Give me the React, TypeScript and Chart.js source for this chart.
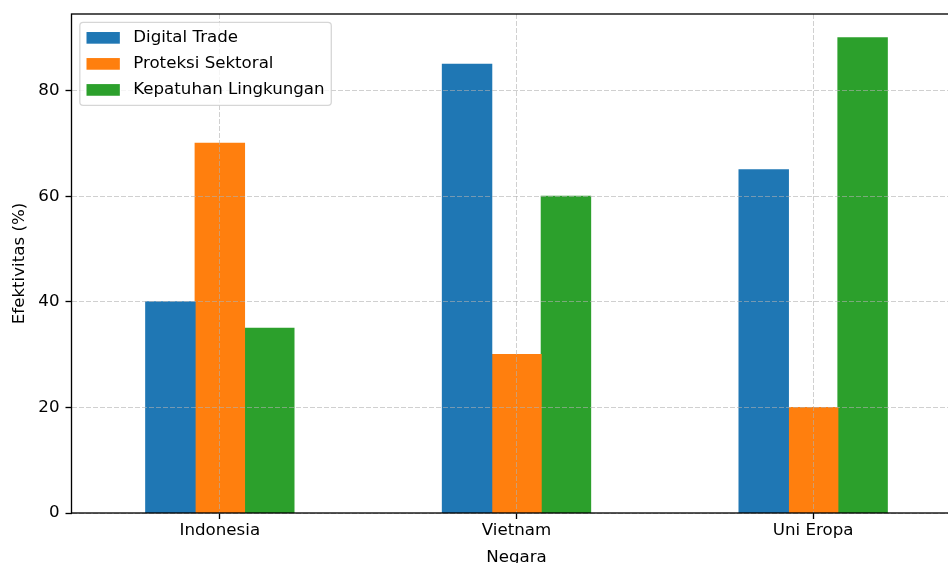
import React, { useEffect, useRef } from "react";
import { Chart, registerables } from "chart.js";

Chart.register(...registerables);

const categories = ["Indonesia", "Vietnam", "Uni Eropa"];
const seriesLabels = ["Digital Trade", "Proteksi Sektoral", "Kepatuhan Lingkungan"];
const digitalTrade = [40, 85, 65];
const proteksiSektoral = [70, 30, 20];
const kepatuhanLingkungan = [35, 60, 90];
const seriesColors = ["#1f77b4", "#ff7f0e", "#2ca02c"];
const yTicks = [0, 20, 40, 60, 80];
const yMax = 94.5;

const W = 975;
const H = 580;
const FONT = '"DejaVu Sans", sans-serif';
const FS = 16.67;

const framePlugin = {
  id: "mplFrame",
  afterDraw(chart: any) {
    const { ctx, chartArea: a } = chart;
    ctx.save();
    ctx.strokeStyle = "#000";
    ctx.lineWidth = 1.33;
    ctx.strokeRect(a.left, a.top, a.right - a.left, a.bottom - a.top);

    // legend (matplotlib style, upper left inside axes)
    const em = FS;
    const ds = chart.data.datasets;
    const n = ds.length;
    ctx.font = `${FS}px ${FONT}`;
    const tw = Math.max(...ds.map((d: any) => ctx.measureText(d.label).width));
    const rowH = 17.7;
    const gap = 0.5 * em;
    const x0 = a.left + 0.5 * em;
    const y0 = a.top + 0.5 * em;
    const w = 0.4 * em + 2 * em + 0.8 * em + tw + 0.4 * em;
    const h = 0.8 * em + rowH * n + gap * (n - 1);
    const r = 0.2 * em;
    ctx.beginPath();
    ctx.moveTo(x0 + r, y0);
    ctx.lineTo(x0 + w - r, y0);
    ctx.arcTo(x0 + w, y0, x0 + w, y0 + r, r);
    ctx.lineTo(x0 + w, y0 + h - r);
    ctx.arcTo(x0 + w, y0 + h, x0 + w - r, y0 + h, r);
    ctx.lineTo(x0 + r, y0 + h);
    ctx.arcTo(x0, y0 + h, x0, y0 + h - r, r);
    ctx.lineTo(x0, y0 + r);
    ctx.arcTo(x0, y0, x0 + r, y0, r);
    ctx.closePath();
    ctx.fillStyle = "rgba(255,255,255,0.8)";
    ctx.fill();
    ctx.strokeStyle = "rgba(204,204,204,0.8)";
    ctx.lineWidth = 1.3;
    ctx.stroke();

    ctx.textBaseline = "middle";
    ctx.textAlign = "left";
    ds.forEach((d: any, i: number) => {
      const cy = y0 + 0.4 * em + rowH / 2 + i * (rowH + gap);
      const hx = x0 + 0.4 * em;
      ctx.fillStyle = d.backgroundColor;
      ctx.fillRect(hx, cy - 0.35 * em, 2 * em, 0.7 * em);
      ctx.fillStyle = "#000";
      ctx.fillText(d.label, hx + 2.8 * em, cy);
    });
    ctx.restore();
  },
};

export default function App() {
  const ref = useRef<HTMLCanvasElement | null>(null);

  useEffect(() => {
    if (!ref.current) return;
    Chart.defaults.font.family = FONT;
    Chart.defaults.font.size = FS;
    Chart.defaults.color = "#000";
    const values = [digitalTrade, proteksiSektoral, kepatuhanLingkungan];
    const chart = new Chart(ref.current, {
      type: "bar",
      data: {
        labels: categories,
        datasets: seriesLabels.map((label, i) => ({
          label,
          data: values[i],
          backgroundColor: seriesColors[i],
          borderWidth: 0,
          inflateAmount: 0.5,
          categoryPercentage: 0.5,
          barPercentage: 1.0,
        })),
      },
      options: {
        animation: false,
        responsive: false,
        devicePixelRatio: 1,
        layout: { padding: { left: 0, top: 14, right: W - 961.5, bottom: 0 } },
        plugins: {
          legend: { display: false },
          tooltip: { enabled: false },
        },
        scales: {
          x: {
            grid: {
              z: 1,
              offset: false,
              color: "rgba(176,176,176,0.6)",
              lineWidth: 1,
              tickColor: "#000",
              tickWidth: 1.33,
              tickLength: 6,
            },
            border: { display: false, dash: [5, 2] },
            ticks: { padding: 2, color: "#000", font: { size: FS, family: FONT } },
            title: {
              display: true,
              text: "Negara",
              color: "#000",
              font: { size: FS, family: FONT },
              padding: { top: 0, bottom: 12 },
            },
            afterFit: (s: any) => {
              s.height = H - 513;
              s.paddingLeft = 0;
              s.paddingRight = 0;
            },
          },
          y: {
            min: 0,
            max: yMax,
            afterBuildTicks: (s: any) => {
              s.ticks = yTicks.map((v) => ({ value: v }));
            },
            grid: {
              z: 1,
              color: "rgba(176,176,176,0.6)",
              lineWidth: 1,
              tickColor: "#000",
              tickWidth: 1.33,
              tickLength: 6,
            },
            border: { display: false, dash: [5, 2] },
            ticks: { padding: 6, color: "#000", font: { size: FS, family: FONT } },
            title: {
              display: true,
              text: "Efektivitas (%)",
              color: "#000",
              font: { size: FS, family: FONT },
              padding: { top: 10, bottom: 0 },
            },
            afterFit: (s: any) => {
              s.width = 71.5;
              s.paddingTop = 0;
              s.paddingBottom = 0;
            },
          },
        },
      },
      plugins: [framePlugin],
    });
    return () => chart.destroy();
  }, []);

  return (
    <div
      style={{
        position: "fixed",
        left: 0,
        top: 0,
        width: 948,
        height: 563,
        overflow: "hidden",
        background: "#fff",
      }}
    >
      <canvas ref={ref} width={W} height={H} style={{ width: W, height: H, display: "block" }} />
    </div>
  );
}
